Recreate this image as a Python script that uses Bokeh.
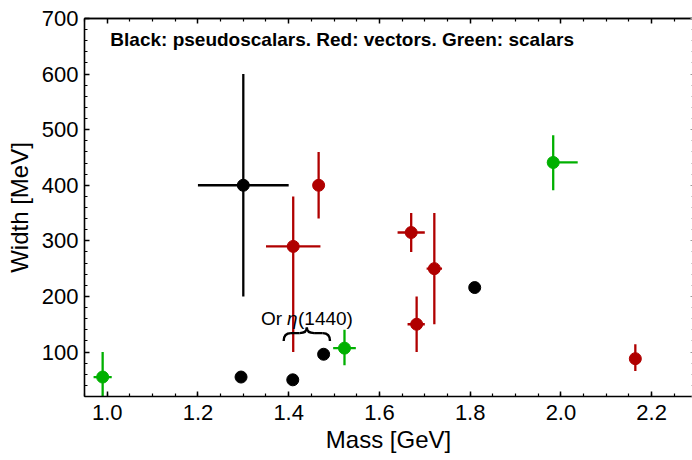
import numpy as np
from bokeh.plotting import figure
from bokeh.models import (ColumnDataSource, Label, LinearAxis, SingleIntervalTicker,
                          FixedTicker, PrintfTickFormatter)
from bokeh.embed import file_html
from bokeh.resources import INLINE

# ---------------- data ----------------
# Black: pseudoscalars
ps_mass = [1.30, 1.295, 1.409, 1.477, 1.81]
ps_width = [400, 55, 50, 96, 216]
ps_mass_lo = [0.10, 0, 0, 0, 0]
ps_mass_hi = [0.10, 0, 0, 0, 0]
ps_width_lo = [200, 0, 0, 0, 0]
ps_width_hi = [200, 0, 0, 0, 0]

# Red: vectors
vec_mass = [1.466, 1.41, 1.67, 1.721, 1.682, 2.164]
vec_width = [400, 290, 315, 250, 150, 88]
vec_mass_lo = [0, 0.06, 0.03, 0.017, 0.02, 0]
vec_mass_hi = [0, 0.06, 0.03, 0.017, 0.018, 0]
vec_width_lo = [60, 190, 35, 100, 50, 22]
vec_width_hi = [60, 90, 35, 100, 50, 26]

# Green: scalars
sc_mass = [0.99, 1.523, 1.983]
sc_width = [55, 107, 441]
sc_mass_lo = [0.02, 0.025, 0]
sc_mass_hi = [0.02, 0.025, 0.054]
sc_width_lo = [45, 31, 50]
sc_width_hi = [45, 33, 49]

# axis settings
x_lim = [0.95, 2.29]
y_lim = [20, 700]
x_major = [1.0, 1.2, 1.4, 1.6, 1.8, 2.0, 2.2]
y_major = [100, 200, 300, 400, 500, 600, 700]

# annotation (brace + text) anchors, data units
brace_x = [1.389, 1.491]
brace_y = [120, 134, 144]
note_pos = [1.339, 160]
title_pos = [1.007, 662]

BLACK = "#000000"
RED = "#b00000"
GREEN = "#00b000"
FONT = "Liberation Sans"

p = figure(width=692, height=460, x_range=tuple(x_lim), y_range=tuple(y_lim),
           output_backend="svg", toolbar_location=None,
           min_border_left=84, min_border_right=0, min_border_top=18,
           min_border_bottom=64, x_axis_label="Mass [GeV]",
           y_axis_label="Width [MeV]")
p.outline_line_color = None
p.xgrid.visible = False
p.ygrid.visible = False
p.background_fill_color = "white"
p.border_fill_color = "white"


def tick_style(ax, major_in=5, minor_in=3):
    ax.axis_line_width = 1.6
    ax.axis_line_color = "black"
    ax.major_tick_in = major_in
    ax.major_tick_out = 0
    ax.minor_tick_in = minor_in
    ax.minor_tick_out = 0
    ax.major_tick_line_width = 1.5
    ax.minor_tick_line_width = 1.2


p.xaxis.ticker = SingleIntervalTicker(interval=0.2, num_minor_ticks=4)
p.yaxis.ticker = SingleIntervalTicker(interval=100, num_minor_ticks=5)
p.xaxis.formatter = PrintfTickFormatter(format="%.1f")
p.yaxis.formatter = PrintfTickFormatter(format="%d")
for ax in list(p.xaxis) + list(p.yaxis):
    tick_style(ax)
    ax.major_label_text_font = FONT
    ax.major_label_text_font_size = "22px"
    ax.major_label_text_color = "black"
    ax.axis_label_text_font = FONT
    ax.axis_label_text_font_size = "24px"
    ax.axis_label_text_font_style = "normal"
    ax.axis_label_text_color = "black"
for ax in p.xaxis:
    ax.major_label_standoff = 8
    ax.axis_label_standoff = 3
for ax in p.yaxis:
    ax.major_label_standoff = 6
    ax.axis_label_standoff = 6

# frame ticks on top and right (no labels): majors drawn as "minor" ticks of a
# label-less ticker so no empty texts are produced
x_minor = [v for v in np.round(np.arange(0.95, 2.30, 0.05), 3) if v not in x_major]
y_minor = [v for v in range(20, 701, 20) if v not in y_major]
for ticks, length in [(x_major, 5), (x_minor, 3)]:
    ax = LinearAxis(ticker=FixedTicker(ticks=[], minor_ticks=list(ticks)))
    tick_style(ax, 0, length)
    ax.minor_tick_line_width = 1.5 if length == 5 else 1.2
    p.add_layout(ax, "above")
for ticks, length in [(y_major, 2), (list(y_minor), 1)]:
    ax = LinearAxis(ticker=FixedTicker(ticks=[], minor_ticks=list(ticks)))
    tick_style(ax, 0, length)
    ax.axis_line_color = None
    ax.minor_tick_line_color = "#999999"
    p.add_layout(ax, "right")


def series(mass, width, mlo, mhi, wlo, whi, color):
    src = ColumnDataSource(dict(
        x=mass, y=width,
        xl=[m - a for m, a in zip(mass, mlo)], xh=[m + b for m, b in zip(mass, mhi)],
        yl=[w - a for w, a in zip(width, wlo)], yh=[w + b for w, b in zip(width, whi)],
    ))
    p.segment(x0="xl", y0="y", x1="xh", y1="y", source=src, line_color=color,
              line_width=2.3, line_cap="butt")
    p.segment(x0="x", y0="yl", x1="x", y1="yh", source=src, line_color=color,
              line_width=2.3, line_cap="butt")
    p.scatter(x="x", y="y", source=src, size=12, fill_color=color, line_color=color)


series(ps_mass, ps_width, ps_mass_lo, ps_mass_hi, ps_width_lo, ps_width_hi, BLACK)
series(vec_mass, vec_width, vec_mass_lo, vec_mass_hi, vec_width_lo, vec_width_hi, RED)
series(sc_mass, sc_width, sc_mass_lo, sc_mass_hi, sc_width_lo, sc_width_hi, GREEN)

# title text inside the frame
p.add_layout(Label(x=title_pos[0], y=title_pos[1],
                   text="Black: pseudoscalars. Red: vectors. Green: scalars",
                   text_font=FONT, text_font_size="19px", text_font_style="bold",
                   text_baseline="middle", text_align="left", text_color="black"))

# "Or η(1440)" annotation
for txt, off, style in [("Or", 0, "normal"), ("\u03b7", 26, "italic"), ("(1440)", 37, "normal")]:
    p.add_layout(Label(x=note_pos[0], y=note_pos[1], x_offset=off, text=txt,
                       text_font=FONT, text_font_size="19px", text_font_style=style,
                       text_baseline="middle", text_align="left", text_color="black"))

# overbrace
bx0, bx1 = brace_x
yb, ym, yt_ = brace_y
xm = (bx0 + bx1) / 2
r = 0.016
p.quadratic(x0=[bx0, xm - r, xm, bx1 - r], y0=[yb, ym, yt_, ym],
            x1=[bx0 + r, xm, xm + r, bx1], y1=[ym, yt_, ym, yb],
            cx=[bx0, xm, xm, bx1], cy=[ym, ym, ym, ym],
            line_color="black", line_width=2.4)
p.segment(x0=[bx0 + r, xm + r], y0=[ym, ym], x1=[xm - r, bx1 - r], y1=[ym, ym],
          line_color="black", line_width=2.4)

open("out.html", "w").write(file_html(p, INLINE))
